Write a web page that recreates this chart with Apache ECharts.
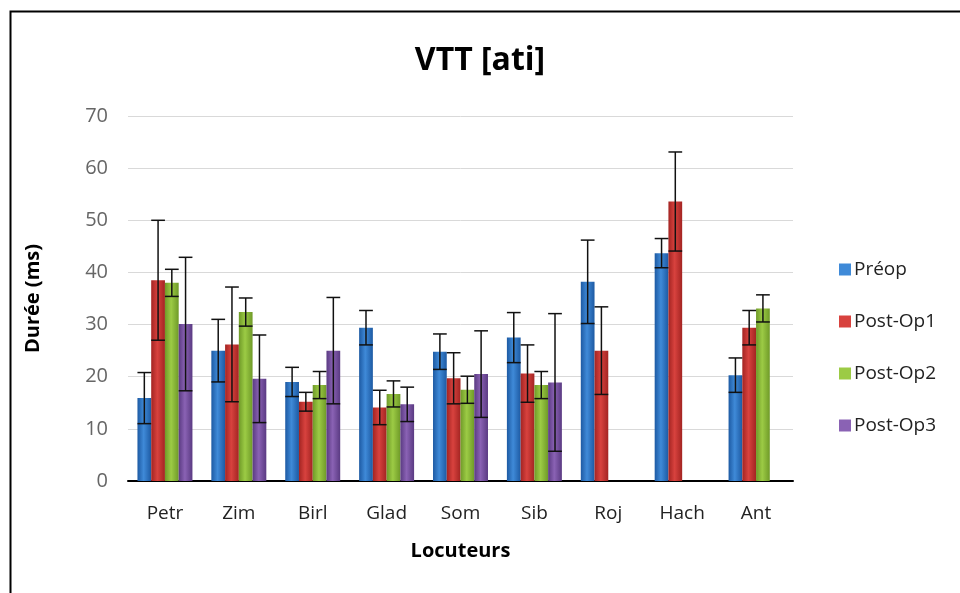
<!DOCTYPE html>
<html>
<head>
<meta charset="utf-8">
<script src="https://cdn.jsdelivr.net/npm/echarts@6/dist/echarts.min.js"></script>
<style>
  html, body { margin: 0; padding: 0; background: #fff; }
  #main { width: 960px; height: 593px; }
</style>
</head>
<body>
<div id="main"></div>
<script>
// locuteurs
var categories = ['Petr', 'Zim', 'Birl', 'Glad', 'Som', 'Sib', 'Roj', 'Hach', 'Ant'];
var seriesNames = ['Préop', 'Post-Op1', 'Post-Op2', 'Post-Op3'];

// moyennes (ms)
var preop    = [15.9, 25.0, 19.0, 29.4, 24.8, 27.5, 38.2, 43.7, 20.3];
var postOp1  = [38.5, 26.2, 15.2, 14.1, 19.7, 20.6, 25.0, 53.6, 29.4];
var postOp2  = [38.0, 32.4, 18.4, 16.7, 17.5, 18.4, null, null, 33.1];
var postOp3  = [30.1, 19.6, 25.0, 14.7, 20.5, 18.9, null, null, null];

// écarts-types (ms)
var preopErr   = [4.9, 6.0, 2.8, 3.3, 3.4, 4.8, 8.0, 2.8, 3.3];
var postOp1Err = [11.5, 11.0, 1.8, 3.3, 4.9, 5.5, 8.4, 9.5, 3.3];
var postOp2Err = [2.6, 2.7, 2.6, 2.5, 2.6, 2.6, null, null, 2.6];
var postOp3Err = [12.8, 8.4, 10.2, 3.3, 8.3, 13.2, null, null, null];

var yTicks = [0, 10, 20, 30, 40, 50, 60, 70];

var means = [preop, postOp1, postOp2, postOp3];
var errs = [preopErr, postOp1Err, postOp2Err, postOp3Err];

// couleurs (bord sombre, centre clair)
var colors = [
  ['#1d5aa3', '#3f8ad8'],
  ['#a32422', '#d8423e'],
  ['#6f9a28', '#9ccb45'],
  ['#5a3a82', '#8a62b4']
];

var CAT_GAP = 0.256;

function barColor(c) {
  return new echarts.graphic.LinearGradient(0, 0, 1, 0, [
    { offset: 0, color: c[0] },
    { offset: 0.45, color: c[1] },
    { offset: 1, color: c[0] }
  ]);
}

var chart = echarts.init(document.getElementById('main'), null, { renderer: 'canvas' });

var series = [];
seriesNames.forEach(function (name, i) {
  series.push({
    name: name,
    type: 'bar',
    data: means[i],
    barGap: '0%',
    barCategoryGap: (CAT_GAP * 100) + '%',
    itemStyle: { color: barColor(colors[i]) },
    z: 2
  });
});

// barres d'erreur
seriesNames.forEach(function (name, i) {
  var data = [];
  categories.forEach(function (c, k) {
    if (means[i][k] != null) {
      data.push([k, means[i][k] - errs[i][k], means[i][k] + errs[i][k]]);
    }
  });
  series.push({
    type: 'custom',
    name: name + '-err',
    data: data,
    z: 5,
    silent: true,
    encode: { x: 0, y: [1, 2] },
    renderItem: function (params, api) {
      var band = api.size([1, 0])[0];
      var groupW = band * (1 - CAT_GAP);
      var bw = groupW / 4;
      var off = -groupW / 2 + bw * (i + 0.5);
      var lo = api.coord([api.value(0), api.value(1)]);
      var hi = api.coord([api.value(0), api.value(2)]);
      var x = lo[0] + off;
      var half = bw / 2;
      var style = { stroke: '#111', lineWidth: 1.5 };
      return {
        type: 'group',
        children: [
          { type: 'line', shape: { x1: x, y1: lo[1], x2: x, y2: hi[1] }, style: style },
          { type: 'line', shape: { x1: x - half, y1: lo[1], x2: x + half, y2: lo[1] }, style: style },
          { type: 'line', shape: { x1: x - half, y1: hi[1], x2: x + half, y2: hi[1] }, style: style }
        ]
      };
    }
  });
});

var option = {
  backgroundColor: '#fff',
  animation: false,
  title: {
    text: 'VTT [ati]',
    left: 'center',
    top: 40,
    textStyle: { fontFamily: 'Open Sans', fontWeight: 'bold', fontSize: 32, color: '#000' }
  },
  legend: {
    data: seriesNames.map(function (n, i) {
      return { name: n, itemStyle: { color: colors[i][1] } };
    }),
    orient: 'vertical',
    left: 834,
    top: 255,
    itemGap: 33,
    itemWidth: 12,
    itemHeight: 12,
    icon: 'rect',
    textStyle: { fontFamily: 'Open Sans', fontSize: 19, color: '#222', padding: [0, 0, 0, -2] }
  },
  grid: { left: 128, right: 167, top: 116, bottom: 112 },
  xAxis: {
    type: 'category',
    data: categories,
    name: 'Locuteurs',
    nameLocation: 'middle',
    nameGap: 60,
    nameTextStyle: { fontFamily: 'Open Sans', fontWeight: 'bold', fontSize: 20, color: '#000' },
    axisLine: { lineStyle: { color: '#000', width: 2 } },
    axisTick: { show: false },
    axisLabel: { fontFamily: 'Open Sans', fontSize: 19, color: '#222', margin: 23 }
  },
  yAxis: {
    type: 'value',
    min: yTicks[0],
    max: yTicks[yTicks.length - 1],
    interval: 10,
    name: 'Durée (ms)',
    nameLocation: 'middle',
    nameGap: 85,
    nameRotate: 90,
    nameTextStyle: { fontFamily: 'Open Sans', fontWeight: 'bold', fontSize: 20, color: '#000' },
    axisLine: { show: false },
    axisTick: { show: false },
    axisLabel: { fontFamily: 'Open Sans', fontSize: 20, color: '#666', margin: 20 },
    splitLine: { lineStyle: { color: '#d9d9d9', width: 1 } }
  },
  graphic: [{
    type: 'rect',
    left: 8,
    top: 9,
    shape: { width: 1000, height: 700 },
    style: { fill: 'none', stroke: '#000', lineWidth: 2 },
    z: 100
  }],
  series: series
};

chart.setOption(option);
</script>
</body>
</html>
